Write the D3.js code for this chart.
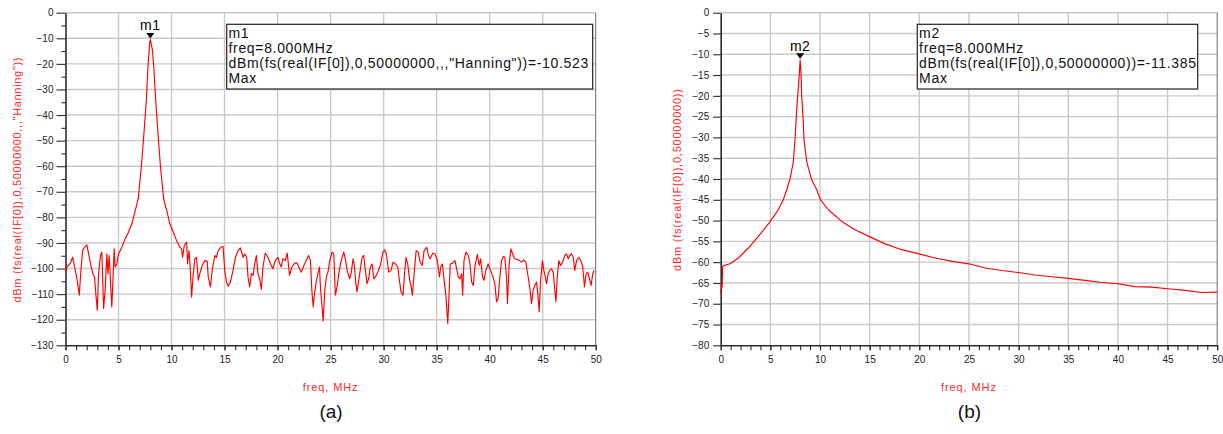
<!DOCTYPE html>
<html>
<head>
<meta charset="utf-8">
<script src="https://cdn.jsdelivr.net/npm/d3@7"></script>
<style>
  html, body { margin: 0; padding: 0; background: #fff; }
  svg { display: block; font-family: "Liberation Sans", Arial, sans-serif; }
</style>
</head>
<body>
<svg id="chart" width="1223" height="434"></svg>
<script>
// Frequency axis shared by both spectra (MHz)
const xTicks = [0, 5, 10, 15, 20, 25, 30, 35, 40, 45, 50];
const xMinor = d3.range(0, 51, 1);

// Y ticks of each panel (dBm)
const yTicksA = [0, -10, -20, -30, -40, -50, -60, -70, -80, -90, -100, -110, -120, -130];
const yMinorA = [-5, -15, -25, -35, -45, -55, -65, -75, -85, -95, -105, -115, -125];
const yTicksB = [0, -5, -10, -15, -20, -25, -30, -35, -40, -45, -50, -55, -60, -65, -70, -75, -80];

// (a) Hanning-windowed spectrum: [freq MHz, dBm]
const spectrumA = [
  [0.00,-101.4],[0.14,-99.4],[0.46,-97.9],[0.68,-95.6],[0.86,-99.4],[1.08,-104.0],[1.30,-110.4],
  [1.43,-102.0],[1.61,-93.0],[1.80,-91.7],[2.02,-90.8],[2.18,-94.3],[2.43,-99.4],[2.58,-102.0],
  [2.74,-103.3],[2.87,-110.4],[3.00,-116.3],[3.12,-102.0],[3.30,-94.9],[3.43,-93.6],[3.59,-115.6],
  [3.74,-108.5],[3.90,-94.3],[4.00,-102.0],[4.12,-94.9],[4.28,-108.5],[4.37,-115.0],[4.46,-105.9],
  [4.59,-92.3],[4.68,-99.4],[4.84,-98.2],[5.00,-94.3],[5.31,-91.7],[5.63,-88.4],[5.94,-85.8],
  [6.25,-82.6],[6.45,-79.4],[6.85,-72.9],[7.16,-59.9],[7.40,-46.9],[7.63,-33.9],[7.78,-20.9],
  [7.94,-11.8],[8.00,-10.523],[8.19,-14.4],[8.32,-20.9],[8.50,-33.9],[8.72,-46.9],[8.95,-59.9],
  [9.26,-72.9],[9.67,-79.4],[9.85,-82.6],[10.17,-85.9],[10.48,-89.1],[10.79,-91.7],[10.95,-92.3],
  [11.04,-95.6],[11.20,-91.0],[11.42,-89.7],[11.51,-98.2],[11.64,-93.0],[11.76,-99.4],[11.89,-111.1],
  [12.05,-102.0],[12.20,-96.2],[12.36,-95.6],[12.52,-104.6],[12.67,-102.0],[12.89,-98.8],[13.14,-96.9],
  [13.36,-97.1],[13.46,-103.3],[13.67,-107.2],[13.83,-100.7],[14.08,-94.9],[14.24,-95.6],[14.40,-93.0],
  [14.65,-91.7],[14.86,-91.4],[15.02,-100.7],[15.18,-105.3],[15.33,-106.9],[15.55,-105.3],[15.80,-100.7],
  [16.03,-95.6],[16.28,-93.0],[16.49,-91.9],[16.74,-95.6],[16.90,-94.3],[17.09,-95.6],[17.21,-103.3],
  [17.37,-107.2],[17.53,-102.0],[17.69,-102.7],[17.84,-98.2],[18.00,-94.9],[18.15,-102.0],[18.31,-104.0],
  [18.47,-108.2],[18.62,-99.4],[18.84,-94.0],[19.09,-95.6],[19.34,-98.2],[19.56,-100.1],[19.78,-96.9],
  [20.03,-95.6],[20.19,-97.9],[20.35,-99.4],[20.50,-96.2],[20.72,-96.9],[20.91,-94.0],[21.13,-102.7],
  [21.35,-99.4],[21.60,-97.9],[21.85,-97.9],[22.07,-100.1],[22.23,-101.4],[22.48,-98.8],[22.70,-96.9],
  [22.92,-94.9],[23.10,-96.9],[23.23,-108.5],[23.36,-115.0],[23.48,-109.8],[23.64,-105.3],[23.80,-102.0],
  [23.95,-99.4],[24.04,-107.2],[24.17,-113.7],[24.30,-120.5],[24.45,-108.5],[24.60,-103.3],[24.75,-101.4],
  [24.92,-96.9],[25.14,-93.6],[25.30,-94.3],[25.45,-110.4],[25.61,-107.2],[25.77,-102.0],[25.99,-96.9],
  [26.24,-93.6],[26.39,-96.2],[26.55,-100.7],[26.80,-104.0],[26.93,-102.0],[27.12,-96.2],[27.24,-98.8],
  [27.37,-105.3],[27.49,-109.1],[27.65,-104.6],[27.81,-100.1],[27.97,-95.6],[28.12,-94.9],[28.28,-100.7],
  [28.44,-105.9],[28.59,-104.0],[28.75,-99.4],[28.91,-98.2],[29.07,-104.0],[29.22,-103.3],[29.44,-101.4],
  [29.69,-98.8],[29.94,-93.6],[30.10,-92.7],[30.26,-94.3],[30.48,-101.4],[30.70,-100.7],[30.89,-97.5],
  [31.11,-98.2],[31.33,-99.4],[31.51,-105.3],[31.64,-109.1],[31.83,-110.4],[31.95,-103.3],[32.11,-95.6],
  [32.27,-98.2],[32.46,-104.6],[32.58,-106.6],[32.71,-110.4],[32.90,-100.7],[33.07,-93.0],[33.26,-93.6],
  [33.45,-97.5],[33.64,-98.8],[33.82,-93.0],[34.07,-91.7],[34.23,-94.9],[34.38,-96.2],[34.64,-94.0],
  [34.85,-94.3],[35.07,-96.9],[35.26,-103.3],[35.39,-99.4],[35.54,-98.2],[35.70,-104.6],[35.86,-109.8],
  [36.05,-121.5],[36.16,-111.1],[36.28,-98.2],[36.51,-97.9],[36.73,-96.9],[36.89,-100.1],[37.04,-103.3],
  [37.20,-104.0],[37.36,-102.0],[37.45,-110.4],[37.58,-96.9],[37.77,-93.6],[37.99,-94.9],[38.14,-98.2],
  [38.30,-105.3],[38.46,-106.6],[38.62,-98.8],[38.84,-94.5],[39.02,-98.8],[39.15,-96.2],[39.33,-103.3],
  [39.46,-104.6],[39.64,-100.7],[39.86,-98.2],[40.08,-100.7],[40.27,-102.7],[40.49,-105.9],[40.65,-113.0],
  [40.80,-111.7],[40.96,-103.3],[41.12,-96.9],[41.28,-95.3],[41.43,-95.6],[41.59,-103.3],[41.68,-113.7],
  [41.84,-98.2],[42.00,-92.3],[42.22,-94.9],[42.37,-96.2],[42.69,-96.6],[43.00,-97.5],[43.22,-96.6],
  [43.41,-97.5],[43.63,-103.3],[43.79,-107.9],[43.95,-113.7],[44.10,-108.5],[44.26,-106.6],[44.42,-105.3],
  [44.54,-109.8],[44.67,-116.9],[44.80,-104.6],[44.98,-96.9],[45.11,-100.7],[45.24,-103.3],[45.36,-105.9],
  [45.52,-102.0],[45.68,-100.7],[45.84,-100.1],[45.99,-101.4],[46.15,-108.5],[46.25,-113.0],[46.37,-103.3],
  [46.53,-96.9],[46.69,-98.8],[46.87,-97.5],[47.09,-94.9],[47.25,-94.3],[47.41,-96.2],[47.56,-94.9],
  [47.72,-94.3],[47.88,-95.6],[48.03,-100.7],[48.19,-96.9],[48.41,-95.6],[48.60,-96.9],[48.78,-99.4],
  [48.94,-107.2],[49.10,-102.0],[49.25,-101.4],[49.41,-104.0],[49.57,-106.6],[49.72,-102.0],[49.85,-100.7]
];

// (b) rectangular-window spectrum: [freq MHz, dBm]
const spectrumB = [
  [0.00,-67.5],[0.08,-65.3],[0.15,-66.0],[0.20,-61.0],[0.50,-60.7],[0.94,-60.4],[1.78,-59.0],
  [2.78,-56.6],[3.79,-53.8],[5.00,-50.2],[5.80,-47.4],[6.30,-45.0],[6.65,-42.6],[6.98,-40.0],
  [7.31,-36.0],[7.48,-30.6],[7.65,-23.5],[7.82,-17.8],[7.92,-14.6],[8.00,-11.385],[8.09,-14.6],
  [8.16,-20.2],[8.30,-25.5],[8.39,-30.6],[8.66,-35.8],[9.16,-40.2],[9.67,-42.6],[10.05,-45.0],
  [10.84,-47.4],[12.19,-50.2],[13.52,-52.2],[14.93,-53.8],[16.55,-55.6],[18.23,-57.0],[19.97,-58.0],
  [21.58,-59.0],[23.32,-59.8],[25.00,-60.4],[26.60,-61.4],[28.30,-62.0],[30.00,-62.5],[31.65,-63.1],
  [33.33,-63.5],[35.00,-63.9],[36.70,-64.4],[38.40,-64.9],[40.00,-65.2],[41.70,-65.9],[43.40,-66.0],
  [45.00,-66.4],[46.80,-66.8],[48.40,-67.3],[50.00,-67.2]
];

// Marker readouts
const markerA = { name: "m1", freq: 8.000, value: -10.523, expr: 'dBm(fs(real(IF[0]),0,50000000,,,"Hanning"))' };
const markerB = { name: "m2", freq: 8.000, value: -11.385, expr: 'dBm(fs(real(IF[0]),0,50000000))' };

const yTitleA = 'dBm (fs(real(IF[0]),0,50000000,,,"Hanning"))';
const yTitleB = 'dBm (fs(real(IF[0]),0,50000000))';
const xTitle = "freq, MHz";

const svg = d3.select("#chart");
svg.append("rect").attr("width", 1223).attr("height", 434).attr("fill", "#fff");

const TOP = 12.7, BOTTOM = 345.3;
const GRID = "#c9c9c9", AXIS = "#2b2b2b", RED = "#ff0000", TITLE_RED = "#ff2a2a";

const panels = [
  { left: 65.5, right: 595.7, yMin: -130, yTicks: yTicksA, yMinor: yMinorA, tick: 9, pad: 3,
    data: spectrumA, marker: markerA, yTitle: yTitleA, yTitleX: 17, yTitleLen: 245,
    legend: { x: 226.7, y: 24.3, w: 366, h: 64.7 }, caption: "(a)" },
  { left: 720.7, right: 1217.2, yMin: -80, yTicks: yTicksB, yMinor: [], tick: 7.5, pad: 4,
    data: spectrumB, marker: markerB, yTitle: yTitleB, yTitleX: 677, yTitleLen: 182,
    legend: { x: 917.3, y: 24.3, w: 280.4, h: 64.7 }, caption: "(b)" }
];

panels.forEach(p => {
  const x = d3.scaleLinear().domain([0, 50]).range([p.left, p.right]);
  const y = d3.scaleLinear().domain([p.yMin, 0]).range([BOTTOM, TOP]);
  const g = svg.append("g");

  // grid
  g.append("g").selectAll("line").data(xTicks.filter(v => v > 0 && v < 50)).join("line")
    .attr("x1", d => x(d)).attr("x2", d => x(d)).attr("y1", TOP).attr("y2", BOTTOM)
    .attr("stroke", GRID).attr("stroke-width", 1.4);
  g.append("g").selectAll("line").data(p.yTicks.filter(v => v > p.yMin)).join("line")
    .attr("x1", p.left).attr("x2", p.right).attr("y1", d => y(d)).attr("y2", d => y(d))
    .attr("stroke", GRID).attr("stroke-width", 1.4);
  // right frame
  g.append("line").attr("x1", x(50)).attr("x2", x(50)).attr("y1", TOP).attr("y2", BOTTOM)
    .attr("stroke", "#6a6a6a").attr("stroke-width", 1);

  // y axis
  g.append("g").attr("transform", `translate(${p.left},0)`)
    .call(d3.axisLeft(y).tickValues(p.yTicks).tickSize(p.tick).tickSizeOuter(0).tickPadding(p.pad).tickFormat(d3.format("d")));
  if (p.yMinor.length) {
    g.append("g").attr("transform", `translate(${p.left},0)`)
      .call(d3.axisLeft(y).tickValues(p.yMinor).tickSize(4).tickSizeOuter(0).tickFormat(""))
      .call(s => s.select(".domain").remove());
  }
  // x axis
  g.append("g").attr("transform", `translate(0,${BOTTOM})`)
    .call(d3.axisBottom(x).tickValues(xTicks).tickSize(5).tickSizeOuter(0).tickPadding(6));
  g.append("g").attr("transform", `translate(0,${BOTTOM})`)
    .call(d3.axisBottom(x).tickValues(xMinor).tickSize(5).tickSizeOuter(0).tickFormat(""))
    .call(s => s.select(".domain").remove());

  g.selectAll(".domain").attr("stroke", AXIS).attr("stroke-width", 1.6);
  g.selectAll(".tick line").attr("stroke", AXIS).attr("stroke-width", 1.1);
  g.selectAll(".tick text").attr("fill", "#222").attr("font-size", 10)
    .attr("font-family", '"Liberation Sans", Arial, sans-serif');

  // axis titles
  g.append("text")
    .attr("transform", `translate(${p.yTitleX},${(TOP + BOTTOM) / 2 + 1}) rotate(-90)`)
    .attr("text-anchor", "middle").attr("dominant-baseline", "central")
    .attr("font-size", 11).attr("fill", TITLE_RED)
    .attr("textLength", p.yTitleLen).attr("lengthAdjust", "spacing")
    .text(p.yTitle);
  g.append("text").attr("x", (p.left + p.right) / 2).attr("y", 391)
    .attr("text-anchor", "middle").attr("font-size", 11).attr("fill", TITLE_RED)
    .attr("letter-spacing", 0.9).text(xTitle);

  // trace
  const line = d3.line().x(d => x(d[0])).y(d => y(d[1]));
  g.append("path").datum(p.data).attr("d", line)
    .attr("fill", "none").attr("stroke", RED).attr("stroke-width", 1.15)
    .attr("stroke-linejoin", "round");

  // marker
  const m = p.marker;
  const mx = x(m.freq), my = y(m.value) - 1.2;
  g.append("path").attr("d", `M${mx - 4},${my - 5.5}L${mx + 4},${my - 5.5}L${mx},${my}Z`).attr("fill", "#000");
  g.append("text").attr("x", mx).attr("y", my - 8).attr("text-anchor", "middle")
    .attr("font-size", 14).attr("letter-spacing", 0.5).attr("fill", "#000").text(m.name);

  // readout box
  const L = p.legend;
  g.append("rect").attr("x", L.x).attr("y", L.y).attr("width", L.w).attr("height", L.h)
    .attr("fill", "#fff").attr("stroke", "#222").attr("stroke-width", 1.2);
  const lines = [m.name, `freq=${m.freq.toFixed(3)}MHz`, `${m.expr}=${m.value.toFixed(3)}`, "Max"];
  g.append("g").selectAll("text").data(lines).join("text")
    .attr("x", L.x + 1.8).attr("y", (d, i) => L.y + 13.4 + i * 15)
    .attr("font-size", 14).attr("letter-spacing", 0.67).attr("fill", "#111").text(d => d);

  // caption
  g.append("text").attr("x", (p.left + p.right) / 2 + 0.5).attr("y", 418)
    .attr("text-anchor", "middle").attr("font-size", 19).attr("fill", "#111").text(p.caption);
});
</script>
</body>
</html>
